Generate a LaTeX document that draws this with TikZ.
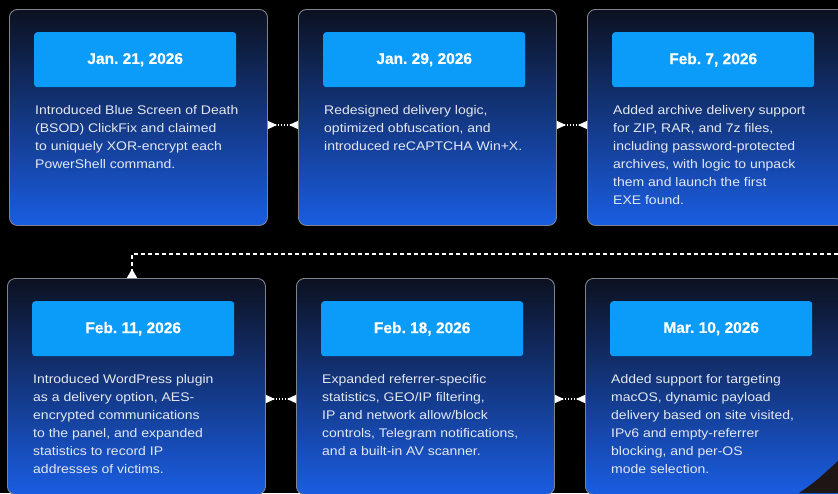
\documentclass[tikz,border=0pt]{standalone}
\usepackage{fontspec}
\newfontfamily\bodyfont[FakeStretch=1.12]{Liberation Sans}
\newfontfamily\titlefont[FakeBold=0.6]{Liberation Sans Bold}
\usetikzlibrary{arrows.meta}
\definecolor{pillblue}{HTML}{0B9BF8}
\definecolor{cardtop}{HTML}{0C1120}
\definecolor{cardmid}{HTML}{123280}
\definecolor{cardbot}{HTML}{1A5DE2}
\definecolor{cardedge}{HTML}{7E838E}
\definecolor{bodytext}{HTML}{E4E8F0}
\definecolor{shadow}{HTML}{1E1614}
\frenchspacing
\begin{document}
\begin{tikzpicture}[x=1pt,y=-1pt,
  card/.style={draw=cardedge, line width=0.9pt, rounded corners=8pt,
    minimum width=258pt, minimum height=216pt, inner sep=0pt, anchor=north west,
    top color=cardtop, middle color=cardmid, bottom color=cardbot},
  pill/.style={fill=pillblue, rounded corners=3pt, minimum width=202pt,
    minimum height=55pt, inner sep=0pt, anchor=north west, text=white,
    font=\titlefont\fontsize{15.5}{18}\selectfont},
  body/.style={anchor=north west, inner sep=0pt, align=left, text=bodytext,
    font=\bodyfont\fontsize{12.5}{18}\selectfont},
  link/.style={draw=white, line width=1.3pt, dash pattern=on 1.4pt off 1.6pt,
    {Triangle[reversed,length=9pt,width=8pt]}-{Triangle[reversed,length=9pt,width=8pt]}},
  flow/.style={draw=white, line width=1.8pt, dash pattern=on 4pt off 3pt,
    -{Triangle[reversed,length=9pt,width=10pt]}}
]
\fill[black] (0,0) rectangle (838,493);
\useasboundingbox (0,0) rectangle (838,493);

% top row
\node[card] (b1) at (9,9) {};
\node[card] (b2) at (298,9) {};
\node[card] (b3) at (587,9) {};
% bottom row
\node[card] (b4) at (7,278) {};
\node[card] (b5) at (296,278) {};
\node[card] (b6) at (585,278) {};

\node[pill] (p1) at ([shift={(25,23)}]b1.north west) {Jan. 21, 2026};
\node[pill] (p2) at ([shift={(25,23)}]b2.north west) {Jan. 29, 2026};
\node[pill] (p3) at ([shift={(25,23)}]b3.north west) {Feb. 7, 2026};
\node[pill] (p4) at ([shift={(25,23)}]b4.north west) {Feb. 11, 2026};
\node[pill] (p5) at ([shift={(25,23)}]b5.north west) {Feb. 18, 2026};
\node[pill] (p6) at ([shift={(25,23)}]b6.north west) {Mar. 10, 2026};

\node[body] (t1) at ([shift={(26,96)}]b1.north west)
  {Introduced Blue Screen of Death\\(BSOD) ClickFix and claimed\\to uniquely XOR-encrypt each\\PowerShell command.};
\node[body] (t2) at ([shift={(26,96)}]b2.north west)
  {Redesigned delivery logic,\\optimized obfuscation, and\\introduced reCAPTCHA Win+X.};
\node[body] (t3) at ([shift={(26,96)}]b3.north west)
  {Added archive delivery support\\for ZIP, RAR, and 7z files,\\including password-protected\\archives, with logic to unpack\\them and launch the first\\EXE found.};
\node[body] (t4) at ([shift={(26,96)}]b4.north west)
  {Introduced WordPress plugin\\as a delivery option, AES-\\encrypted communications\\to the panel, and expanded\\statistics to record IP\\addresses of victims.};
\node[body] (t5) at ([shift={(26,96)}]b5.north west)
  {Expanded referrer-specific\\statistics, GEO/IP filtering,\\IP and network allow/block\\controls, Telegram notifications,\\and a built-in AV scanner.};
\node[body] (t6) at ([shift={(26,96)}]b6.north west)
  {Added support for targeting\\macOS, dynamic payload\\delivery based on site visited,\\IPv6 and empty-referrer\\blocking, and per-OS\\mode selection.};

% connectors
\draw[link] ([shift={(0,116)}]b1.north east) -- ([shift={(0,116)}]b2.north west);
\draw[link] ([shift={(0,116)}]b2.north east) -- ([shift={(0,116)}]b3.north west);
\draw[link] ([shift={(0,121)}]b4.north east) -- ([shift={(0,121)}]b5.north west);
\draw[link] ([shift={(0,121)}]b5.north east) -- ([shift={(0,121)}]b6.north west);

\coordinate (dstart) at (845,254);
\coordinate (dturn) at (132,254);
\draw[flow] (dstart) -- (dturn) -- (dturn |- b4.north);

\fill[shadow] (799,493) .. controls (815,482) .. (838,461) -- (838,493) -- cycle;
\end{tikzpicture}
\end{document}
